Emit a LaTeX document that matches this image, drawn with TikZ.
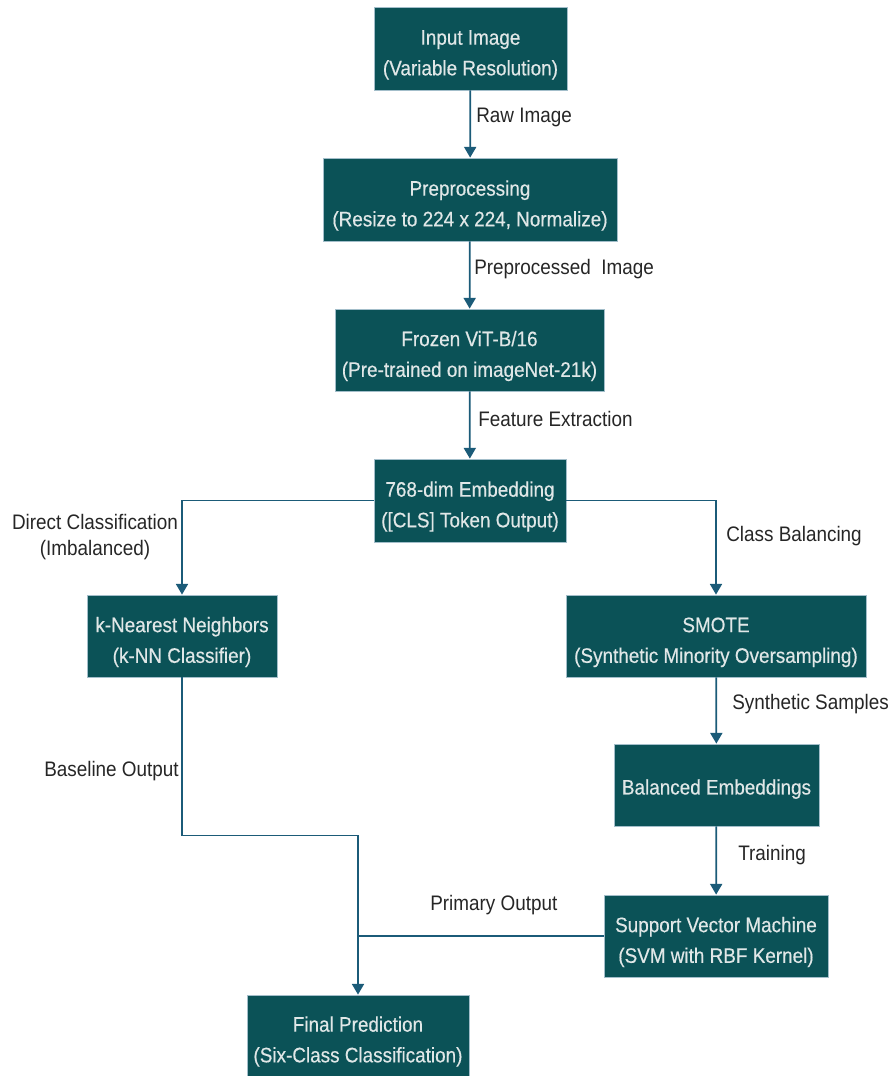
\documentclass[tikz,border=0pt]{standalone}
\usepackage{fontspec}
\setmainfont{Liberation Sans}
\newfontfamily\stagefont[FakeStretch=0.9, FakeBold=0.4]{Liberation Sans}
\newfontfamily\labelfont[FakeStretch=0.9]{Liberation Sans}
\usetikzlibrary{arrows.meta}
\definecolor{boxfill}{HTML}{0B5257}
\definecolor{boxline}{HTML}{A3BECA}
\definecolor{flowline}{HTML}{1B5B78}
\definecolor{boxtext}{HTML}{E0E7E7}
\newcommand{\topgap}{\rule{0pt}{20.5pt}}
\tikzset{
  stage/.style={draw=boxline, line width=0.6pt, fill=boxfill, text=boxtext,
    align=center, inner sep=0pt, font=\stagefont\fontsize{15.75}{23}\selectfont},
  flow/.style={draw=flowline, line width=1.3pt, -{Triangle[length=8pt,width=9pt]}},
  link/.style={draw=flowline, line width=1.3pt},
  lbl/.style={font=\labelfont\fontsize{15.75}{19}\selectfont, inner sep=0pt, text=black!85}
}

\begin{document}
\begin{tikzpicture}[x=0.75pt,y=0.75pt,yscale=-1,xscale=1]
\useasboundingbox (0,0) rectangle (891,1076);

% Stages
\node[stage, minimum width=193*0.75pt, minimum height=83*0.75pt] (input) at (470.5,48.5) {\topgap Input Image\\(Variable Resolution)};
\node[stage, minimum width=294*0.75pt, minimum height=83*0.75pt] (prep) at (470,199.5) {\topgap Preprocessing\\(Resize to 224 x 224, Normalize)};
\node[stage, minimum width=269*0.75pt, minimum height=82*0.75pt] (vit) at (469.5,350) {\topgap Frozen ViT-B/16\\(Pre-trained on imageNet-21k)};
\node[stage, minimum width=192*0.75pt, minimum height=83*0.75pt] (embed) at (470,500.5) {\topgap 768-dim Embedding\\([CLS] Token Output)};
\node[stage, minimum width=190*0.75pt, minimum height=82*0.75pt] (knn) at (182,636) {\topgap k-Nearest Neighbors\\(k-NN Classifier)};
\node[stage, minimum width=300*0.75pt, minimum height=82*0.75pt] (smote) at (716,636) {\topgap SMOTE\\(Synthetic Minority Oversampling)};
\node[stage, minimum width=205*0.75pt, minimum height=82*0.75pt] (balanced) at (716.5,785) {\rule{0pt}{17.5pt}Balanced Embeddings};
\node[stage, minimum width=224*0.75pt, minimum height=82*0.75pt] (svm) at (716,936) {\topgap Support Vector Machine\\(SVM with RBF Kernel)};
\node[stage, minimum width=222*0.75pt, minimum height=81*0.75pt] (final) at (358,1035.5) {\topgap Final Prediction\\(Six-Class Classification)};

% Connectors
\draw[flow] (input) -- (prep);
\draw[flow] (prep) -- (vit);
\draw[flow] (vit) -- (embed);
\draw[flow] (embed.west) -| (knn.north);
\draw[flow] (embed.east) -| (smote.north);
\draw[flow] (smote) -- (balanced);
\draw[flow] (balanced) -- (svm);
\draw[flow] (knn.south) -- ++(0,158) -| (final.north);
\draw[link] (svm.west) -- (svm.west -| final.north);

% Labels
\node[lbl, anchor=west] (rawlbl) at (476,117) {Raw Image};
\node[lbl, anchor=west] (preplbl) at (474,269) {Preprocessed~~Image};
\node[lbl, anchor=west] (featlbl) at (478,419) {Feature Extraction};
\node[lbl, align=center] (directlbl) at (95,537) {Direct Classification\\(Imbalanced)};
\node[lbl, anchor=west] (balancelbl) at (726,536) {Class Balancing};
\node[lbl, anchor=west] (synthlbl) at (732,704) {Synthetic Samples};
\node[lbl, anchor=west] (trainlbl) at (738,855) {Training};
\node[lbl, anchor=west] (baselbl) at (44,771) {Baseline Output};
\node[lbl, anchor=west] (primlbl) at (430,905) {Primary Output};
\end{tikzpicture}
\end{document}
